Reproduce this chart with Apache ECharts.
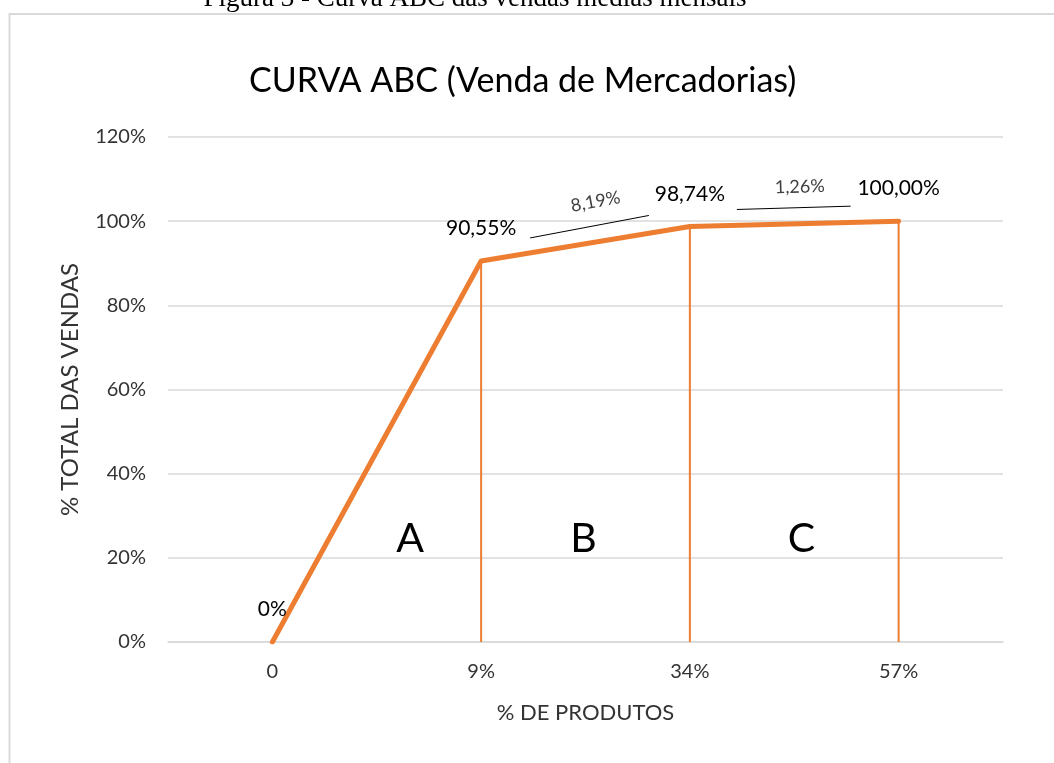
<!DOCTYPE html>
<html><head><meta charset="utf-8">
<script src="https://cdn.jsdelivr.net/npm/echarts@6/dist/echarts.min.js"></script>
<style>html,body{margin:0;padding:0;background:#fff}#c{width:1054px;height:763px}</style>
</head><body><div id="c"></div>
<script>
// ---- data ----
const categories = ['0', '9%', '34%', '57%'];
const cumulative = [0, 90.55, 98.74, 100];
const yTicks = [0, 20, 40, 60, 80, 100, 120];
const classes = ['A', 'B', 'C'];
const caption = 'Figura 3 - Curva ABC das vendas médias mensais';
const chartTitle = 'CURVA ABC (Venda de Mercadorias)';
const xName = '% DE PRODUTOS';
const yName = '% TOTAL DAS VENDAS';

// ---- style ----
const FONT = 'Lato';
const ORANGE = '#ED7D31';
const AXIS_TXT = '#333';
function pct(v) { return v === 0 ? '0%' : v.toFixed(2).replace('.', ',') + '%'; }

const chart = echarts.init(document.getElementById('c'), null, { renderer: 'canvas' });
chart.setOption({
  animation: false,
  backgroundColor: '#fff',
  textStyle: { fontFamily: FONT },
  title: {
    text: chartTitle, left: 244, top: 59, padding: 5,
    textStyle: { fontFamily: FONT, fontSize: 34, fontWeight: 'normal', color: '#000' }
  },
  grid: { left: 168, right: 51, top: 137, bottom: 121, containLabel: false },
  xAxis: {
    type: 'category', data: categories, boundaryGap: true,
    name: xName, nameLocation: 'middle', nameGap: 60,
    nameTextStyle: { fontFamily: FONT, fontSize: 22, color: AXIS_TXT },
    axisLine: { show: true, lineStyle: { color: '#d9d9d9', width: 1.5 } },
    axisTick: { show: false },
    axisLabel: { margin: 20, fontSize: 20, color: AXIS_TXT, fontFamily: FONT }
  },
  yAxis: {
    type: 'value', min: yTicks[0], max: yTicks[yTicks.length - 1], interval: yTicks[1] - yTicks[0],
    name: yName, nameLocation: 'middle', nameGap: 86, nameRotate: 90,
    nameTextStyle: { fontFamily: FONT, fontSize: 24, color: AXIS_TXT },
    axisLine: { show: false }, axisTick: { show: false },
    axisLabel: { margin: 22, fontSize: 20, color: AXIS_TXT, fontFamily: FONT, formatter: '{value}%' },
    splitLine: { lineStyle: { color: '#d9d9d9', width: 1.5 } }
  },
  series: [
    {
      type: 'bar', data: cumulative, barWidth: 2, silent: true, z: 1,
      itemStyle: { color: ORANGE }
    },
    {
      type: 'line', data: cumulative, z: 3,
      symbol: 'circle', symbolSize: 2, showSymbol: true,
      itemStyle: { color: ORANGE },
      lineStyle: { color: ORANGE, width: 5, cap: 'round', join: 'round' },
      label: {
        show: true, position: 'top', distance: 21,
        fontFamily: FONT, fontSize: 21, color: '#000',
        formatter: p => pct(p.value)
      }
    }
  ]
});

// ---- annotations positioned from data coordinates ----
const P = cumulative.map((v, i) => chart.convertToPixel({ xAxisIndex: 0, yAxisIndex: 0 }, [i, v]));
const y20 = chart.convertToPixel({ yAxisIndex: 0 }, yTicks[1]);
function lerp(a, b, t) { return a + (b - a) * t; }

const g = [];
// frame
g.push({ type: 'rect', shape: { x: 9.5, y: 14, width: 1100, height: 800 }, style: { fill: 'none', stroke: '#d9d9d9', lineWidth: 2 }, z: 0, silent: true });
// caption
g.push({ type: 'text', x: 475, y: -1, style: { text: caption, font: '27px "Liberation Serif"', fill: '#000', textAlign: 'center', textVerticalAlign: 'middle' }, silent: true });

// difference annotations
const diffs = [cumulative[2] - cumulative[1], cumulative[3] - cumulative[2]];
const segs = [
  { a: [P[1][0] + 49, P[1][1] - 23], b: [P[2][0] - 41, P[2][1] - 11], t: [6, -25] },
  { a: [P[2][0] + 47, P[2][1] - 17], b: [P[3][0] - 48, P[3][1] - 15], t: [6, -21] }
];
segs.forEach((s, i) => {
  g.push({ type: 'line', shape: { x1: s.a[0], y1: s.a[1], x2: s.b[0], y2: s.b[1] }, style: { stroke: '#000', lineWidth: 1 }, silent: true });
  const mx = (s.a[0] + s.b[0]) / 2 + s.t[0], my = (s.a[1] + s.b[1]) / 2 + s.t[1];
  const ang = -Math.atan2(s.b[1] - s.a[1], s.b[0] - s.a[0]);
  g.push({ type: 'text', x: mx, y: my, rotation: ang, style: { text: pct(diffs[i]), font: '18px Lato', fill: '#404040', textAlign: 'center', textVerticalAlign: 'middle' }, silent: true });
});

// class letters
const fr = [0.66, 0.49, 0.535];
classes.forEach((c, i) => {
  const x = lerp(P[i][0], P[i + 1][0], fr[i]);
  g.push({ type: 'text', x: x, y: y20 - 19, style: { text: c, font: '41px Lato', fill: '#000', textAlign: 'center', textVerticalAlign: 'middle' }, silent: true });
});

chart.setOption({ graphic: g });
</script>
</body></html>
